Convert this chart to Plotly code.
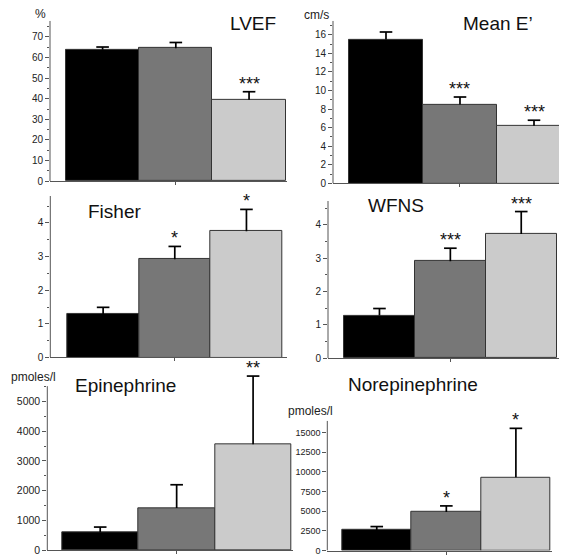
import plotly.graph_objects as go

# three groups, no labels shown in the figure
groups = ["G1", "G2", "G3"]
colors = ["#000000", "#777777", "#cbcbcb"]

lvef = [63.8, 64.5, 39.5]
lvef_err = [1.3, 2.8, 3.9]
lvef_sig = ["", "", "***"]

mean_e = [15.5, 8.5, 6.2]
mean_e_err = [0.8, 0.8, 0.6]
mean_e_sig = ["", "***", "***"]

fisher = [1.29, 2.92, 3.75]
fisher_err = [0.2, 0.38, 0.65]
fisher_sig = ["", "*", "*"]

wfns = [1.28, 2.91, 3.73]
wfns_err = [0.21, 0.39, 0.67]
wfns_sig = ["", "***", "***"]

epi = [600, 1420, 3560]
epi_err = [175, 780, 2300]
epi_sig = ["", "", "**"]

norepi = [2590, 4890, 9310]
norepi_err = [460, 790, 6230]
norepi_sig = ["", "*", "*"]

FONT = "Arial, Liberation Sans, sans-serif"
AXC = "#555555"
W, H = 567, 555

# panel: (values, errors, stars, title, unit, x px span, y px span, axis top, dtick, minor, tick font,
#         title pos px, unit pos px, x range)
panels = [
    (lvef, lvef_err, lvef_sig, "LVEF", "%", (42, 279), (13, 175), 77.8, 10, 5, 10,
     (245, 16), (32, 6), (-0.718, 2.518)),
    (mean_e, mean_e_err, mean_e_sig, "Mean E\u2019", "cm/s", (325, 565), (13, 177.3), 17.5, 2, 1, 10,
     (490, 16), (308, 7), (-0.716, 2.527)),
    (fisher, fisher_err, fisher_sig, "Fisher", None, (42.3, 279.3), (190, 353.3), 4.8, 1, 0.5, 10,
     (106, 206), None, (-0.737, 2.57)),
    (wfns, wfns_err, wfns_sig, "WFNS", None, (320, 554), (195, 354), 4.72, 1, 0.5, 10,
     (388, 200), None, (-0.726, 2.575)),
    (epi, epi_err, epi_sig, "Epinephrine", "pmoles/l", (39.3, 285), (382.3, 548), 5520, 1000, 500, 10.5,
     (117, 382), (25, 373), (-0.692, 2.522)),
    (norepi, norepi_err, norepi_sig, "Norepinephrine", "pmoles/l", (319.3, 544), (417.3, 548.5), 16500, 2500, None, 9,
     (405, 381), (302, 407), (-0.711, 2.519)),
]

fig = go.Figure()
annotations = []
shapes = []

for i, (vals, errs, sig, title, unit, xs, ys, ytop, dt, mdt, tfs, tpos, upos, xr) in enumerate(panels):
    n = "" if i == 0 else str(i + 1)
    xa, ya = "x" + n, "y" + n
    tops = [v + e for v, e in zip(vals, errs)]
    # the plotted range may go past the drawn axis line so error bars are not clipped
    rtop = max(ytop, max(tops) * 1.01)
    ybot_px = ys[1]
    ytop_px = ys[1] - (ys[1] - ys[0]) * rtop / ytop

    fig.add_trace(go.Bar(
        x=groups, y=vals, xaxis=xa, yaxis=ya,
        marker=dict(color=colors, line=dict(color="#333333", width=1)),
        width=1, showlegend=False, hoverinfo="skip",
    ))
    # one-sided error bars: stem from bar top up to value + error, with a cap
    ex, ey = [], []
    for g, v, t in zip(groups, vals, tops):
        ex += [g, g, None]
        ey += [v, t, None]
    fig.add_trace(go.Scatter(
        x=ex, y=ey, xaxis=xa, yaxis=ya, mode="lines",
        line=dict(color="#000000", width=1.7),
        showlegend=False, hoverinfo="skip",
    ))
    fig.add_trace(go.Scatter(
        x=groups, y=tops, xaxis=xa, yaxis=ya, mode="markers",
        marker=dict(symbol="line-ew", size=9, line=dict(color="#000000", width=1.7)),
        cliponaxis=False, showlegend=False, hoverinfo="skip",
    ))
    fig.layout["xaxis" + n] = dict(
        domain=[xs[0] / W, xs[1] / W], anchor=ya, type="category",
        range=list(xr), showline=True, linecolor=AXC, linewidth=1,
        tickmode="array", tickvals=[groups[1]], ticktext=[""],
        ticks="outside", ticklen=3, tickcolor=AXC, showgrid=False, zeroline=False,
    )
    yax = dict(
        domain=[1 - ybot_px / H, 1 - ytop_px / H], anchor=xa,
        range=[0, rtop], showline=False,
        dtick=dt, tick0=0, ticks="outside", ticklen=4, tickcolor=AXC,
        tickformat="d",
        tickfont=dict(family=FONT, size=tfs, color="#222222"),
        showgrid=False, zeroline=False,
    )
    if mdt:
        yax["minor"] = dict(dtick=mdt, ticks="outside", ticklen=2.5, tickcolor=AXC, showgrid=False)
    fig.layout["yaxis" + n] = yax
    # y axis line up to its own top
    shapes.append(dict(
        type="line", xref=xa + " domain", yref=ya, x0=0, x1=0, y0=0, y1=ytop,
        line=dict(color=AXC, width=1),
    ))

    for g, t, s in zip(groups, tops, sig):
        if s:
            annotations.append(dict(
                x=g, y=t / rtop, xref=xa, yref=ya + " domain", text=s, showarrow=False,
                yanchor="bottom", yshift=-4, font=dict(family=FONT, size=18, color="#111111"),
            ))
    annotations.append(dict(
        x=tpos[0] / W, y=1 - tpos[1] / H, xref="paper", yref="paper", text=title,
        showarrow=False, xanchor="center", yanchor="middle",
        font=dict(family=FONT, size=19, color="#111111"),
    ))
    if unit:
        annotations.append(dict(
            x=upos[0] / W, y=1 - upos[1] / H, xref="paper", yref="paper", text=unit,
            showarrow=False, xanchor="center", yanchor="middle",
            font=dict(family=FONT, size=12, color="#222222"),
        ))

fig.update_layout(
    width=W, height=H, margin=dict(l=0, r=0, t=0, b=0),
    paper_bgcolor="white", plot_bgcolor="white",
    bargap=0, annotations=annotations, shapes=shapes, showlegend=False,
)

fig.write_html("out.html")
